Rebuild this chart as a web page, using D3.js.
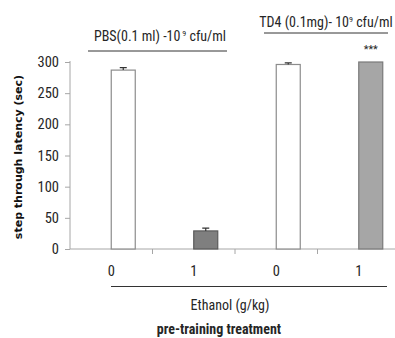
<!DOCTYPE html>
<html>
<head>
<meta charset="utf-8">
<script src="https://cdn.jsdelivr.net/npm/d3@7"></script>
<style>
  body { margin: 0; background: #fff; }
  text { font-family: "Liberation Sans Narrow", "Arial Narrow", "Roboto Condensed", sans-serif; fill: #262626; }
  .ytitle { font-family: "DejaVu Sans", Verdana, sans-serif; font-weight: bold; font-size: 11px; fill: #111; }
</style>
</head>
<body>
<div id="container"></div>
<script>
// chart data
var doses = ["0", "1", "0", "1"];
var latency = [287, 29, 296, 300];
var errs = [4, 4.5, 2.5, 0];
var fills = ["#ffffff", "#7f7f7f", "#ffffff", "#a6a6a6"];
var strokes = ["#8c8c8c", "#5a5a5a", "#8c8c8c", "#7a7a7a"];
var yTicks = [0, 50, 100, 150, 200, 250, 300];

var width = 395;
var height = 338;
var margin = {left: 70, top: 62, bottom: 89, right: 0};

const svg = d3.select("#container")
              .append("svg")
              .attr("width", width)
              .attr("height", height);

var yScale = d3.scaleLinear()
               .domain([0, 300])
               .range([height - margin.bottom, margin.top]);

var xScale = d3.scaleBand()
               .domain(d3.range(doses.length))
               .range([margin.left, 400]);

var bw = xScale.bandwidth();
var axisColor = "#a6a6a6";

// y axis
var yAxis = d3.axisLeft(yScale)
              .tickValues(yTicks)
              .tickSize(5)
              .tickSizeOuter(0)
              .tickPadding(6);

var gy = svg.append("g")
   .attr("transform", "translate(" + margin.left + ",0)")
   .call(yAxis);
gy.select(".domain").attr("stroke", axisColor).attr("d", "M0," + (yScale(300) - 1) + "V" + yScale(0));
gy.selectAll(".tick line").attr("stroke", axisColor);
gy.selectAll(".tick text")
  .style("font-family", "'Liberation Sans Narrow', 'Roboto Condensed', sans-serif")
  .style("font-size", "14.5px")
  .attr("fill", "#404040");

// x axis line + boundary ticks
svg.append("line")
   .attr("x1", margin.left).attr("x2", width)
   .attr("y1", yScale(0)).attr("y2", yScale(0))
   .attr("stroke", axisColor);

svg.selectAll(".xtick")
   .data(d3.range(1, doses.length))
   .enter()
   .append("line")
   .attr("class", "xtick")
   .attr("x1", (d) => xScale(d)).attr("x2", (d) => xScale(d))
   .attr("y1", yScale(0)).attr("y2", yScale(0) + 5)
   .attr("stroke", axisColor);

svg.selectAll(".xlabel")
   .data(doses)
   .enter()
   .append("text")
   .attr("class", "xlabel")
   .attr("x", (d, i) => xScale(i) + bw / 2)
   .attr("y", 276)
   .attr("text-anchor", "middle")
   .style("font-size", "14.5px")
   .attr("fill", "#404040")
   .text((d) => d);

// bars
var barW = 24;
svg.selectAll(".bar")
   .data(latency)
   .enter()
   .append("rect")
   .attr("class", "bar")
   .attr("x", (d, i) => xScale(i) + bw / 2)
   .attr("y", (d) => yScale(d))
   .attr("width", barW)
   .attr("height", (d) => yScale(0) - yScale(d))
   .attr("fill", (d, i) => fills[i])
   .attr("stroke", (d, i) => strokes[i])
   .attr("stroke-width", 1.2);

// error bars
svg.selectAll(".err")
   .data(latency)
   .enter()
   .append("path")
   .attr("class", "err")
   .attr("d", (d, i) => {
       var cx = xScale(i) + bw / 2 + barW / 2;
       var top = yScale(d + errs[i]);
       return "M" + cx + "," + yScale(d) + "V" + top + "M" + (cx - 3.5) + "," + top + "H" + (cx + 3.5);
   })
   .attr("stroke", (d, i) => errs[i] > 0 ? "#333" : "none")
   .attr("stroke-width", 1.2)
   .attr("fill", "none");

// significance
svg.append("text")
   .attr("x", xScale(3) + bw / 2 + barW / 2)
   .attr("y", 53)
   .attr("text-anchor", "middle")
   .style("font-size", "11px")
   .attr("fill", "#555")
   .text("***");

// group headers
var g1 = svg.append("text")
   .attr("x", 160)
   .attr("y", 41)
   .attr("text-anchor", "middle")
   .style("font-size", "14px");
g1.append("tspan").text("PBS(0.1 ml) -10");
g1.append("tspan").attr("dy", -5).style("font-size", "8px").text(" 9");
g1.append("tspan").attr("dy", 5).text(" cfu/ml");

svg.append("line")
   .attr("x1", 88).attr("x2", 227)
   .attr("y1", 51).attr("y2", 51)
   .attr("stroke", "#333");

var g2 = svg.append("text")
   .attr("x", 326)
   .attr("y", 27)
   .attr("text-anchor", "middle")
   .style("font-size", "14px");
g2.append("tspan").text("TD4 (0.1mg)- 10");
g2.append("tspan").attr("dy", -5).style("font-size", "8px").text("9");
g2.append("tspan").attr("dy", 5).text(" cfu/ml");

svg.append("line")
   .attr("x1", 264).attr("x2", 388)
   .attr("y1", 33).attr("y2", 33)
   .attr("stroke", "#333");

// bottom labels
svg.append("line")
   .attr("x1", 111).attr("x2", 387)
   .attr("y1", 286.5).attr("y2", 286.5)
   .attr("stroke", "#333");

svg.append("text")
   .attr("x", 230)
   .attr("y", 310)
   .attr("text-anchor", "middle")
   .style("font-size", "14px")
   .text("Ethanol (g/kg)");

svg.append("text")
   .attr("x", 219)
   .attr("y", 334)
   .attr("text-anchor", "middle")
   .style("font-size", "14px")
   .style("font-weight", "bold")
   .text("pre-training treatment");

svg.append("text")
   .attr("class", "ytitle")
   .attr("transform", "translate(22," + 157 + ") rotate(-90)")
   .attr("text-anchor", "middle")
   .text("step through latency (sec)");
</script>
</body>
</html>
